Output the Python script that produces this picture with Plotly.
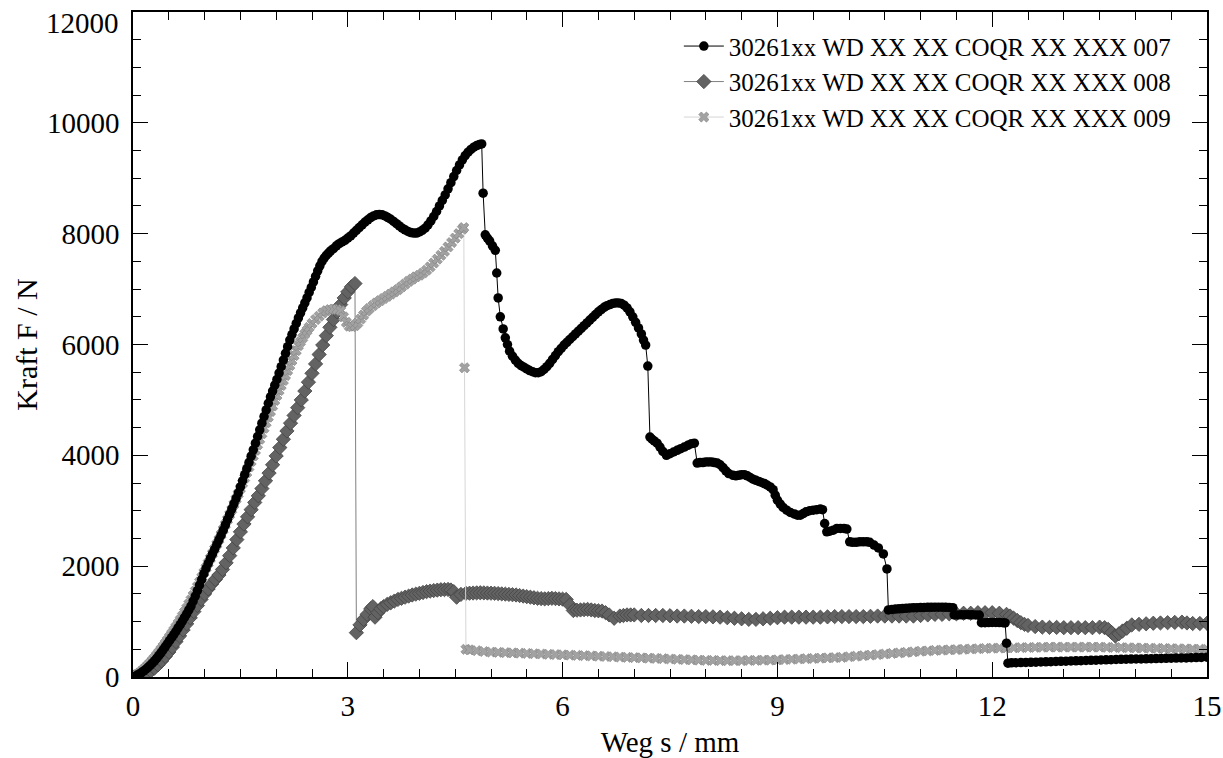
import plotly.graph_objects as go

# ---------------- data ----------------
name_007 = "30261xx WD XX XX COQR XX XXX 007"
name_008 = "30261xx WD XX XX COQR XX XXX 008"
name_009 = "30261xx WD XX XX COQR XX XXX 009"

# Series 007 (black circles)
x_007 = [0.00, 0.03, 0.06, 0.09, 0.12, 0.15, 0.18, 0.21, 0.24, 0.27, 0.30, 0.33, 0.36, 0.39, 0.42, 0.45, 0.48,
         0.51, 0.54, 0.57, 0.60, 0.63, 0.66, 0.69, 0.72, 0.75, 0.78, 0.81, 0.84, 0.87, 0.90, 0.93, 0.96, 0.99,
         1.02, 1.05, 1.08, 1.11, 1.14, 1.17, 1.20, 1.23, 1.26, 1.29, 1.32, 1.35, 1.38, 1.41, 1.44, 1.47, 1.50,
         1.53, 1.56, 1.59, 1.62, 1.65, 1.68, 1.71, 1.74, 1.77, 1.80, 1.83, 1.86, 1.89, 1.92, 1.95, 1.98, 2.01,
         2.04, 2.07, 2.10, 2.13, 2.16, 2.19, 2.22, 2.25, 2.28, 2.31, 2.34, 2.37, 2.40, 2.43, 2.46, 2.49, 2.52,
         2.55, 2.58, 2.61, 2.64, 2.67, 2.70, 2.73, 2.76, 2.80, 2.84, 2.88, 2.92, 2.96, 3.00, 3.04, 3.08, 3.12,
         3.16, 3.20, 3.24, 3.28, 3.32, 3.36, 3.40, 3.44, 3.48, 3.52, 3.56, 3.60, 3.64, 3.68, 3.72, 3.76, 3.80,
         3.84, 3.88, 3.92, 3.96, 4.00, 4.04, 4.08, 4.12, 4.16, 4.20, 4.24, 4.28, 4.32, 4.36, 4.40, 4.44, 4.48,
         4.52, 4.56, 4.60, 4.64, 4.68, 4.72, 4.76, 4.80, 4.84, 4.87,
         4.89, 4.92, 4.95, 4.98, 5.02, 5.06, 5.08, 5.10, 5.13, 5.17, 5.20, 5.23, 5.26, 5.30, 5.34, 5.38, 5.42,
         5.46, 5.50, 5.54, 5.58, 5.62, 5.66, 5.70, 5.74, 5.78, 5.82, 5.86, 5.90, 5.94, 5.98, 6.02, 6.06, 6.10,
         6.14, 6.18, 6.22, 6.26, 6.30, 6.34, 6.38, 6.42, 6.46, 6.50, 6.54, 6.58, 6.62, 6.66, 6.70, 6.74, 6.78,
         6.82, 6.86, 6.90, 6.94, 6.98, 7.02, 7.06, 7.10, 7.13, 7.16, 7.19,
         7.22, 7.25, 7.28, 7.32, 7.36, 7.40, 7.45, 7.50, 7.55, 7.60, 7.65, 7.70, 7.75, 7.80, 7.84,
         7.88, 7.92, 7.96, 8.00, 8.04, 8.08, 8.12, 8.16, 8.20, 8.24, 8.28, 8.32, 8.38, 8.42, 8.46, 8.50, 8.54,
         8.58, 8.62, 8.66, 8.70, 8.74, 8.78, 8.82, 8.86, 8.90, 8.94, 8.97, 9.00, 9.04, 9.08, 9.13, 9.18, 9.24,
         9.28, 9.32, 9.36, 9.40, 9.45, 9.50, 9.55, 9.60, 9.63, 9.66, 9.69, 9.73, 9.78, 9.83, 9.88, 9.93, 9.97,
         10.01, 10.05, 10.10, 10.15, 10.20, 10.25, 10.29, 10.35, 10.41, 10.48, 10.53,
         10.55, 10.60, 10.65, 10.70, 10.75, 10.80, 10.85, 10.90, 10.95, 11.00, 11.05, 11.10, 11.15, 11.20,
         11.25, 11.30, 11.35, 11.40, 11.45,
         11.47, 11.52, 11.57, 11.62, 11.67, 11.72, 11.77, 11.82,
         11.85, 11.90, 11.95, 12.00, 12.05, 12.10, 12.15, 12.18,
         12.20, 12.22, 12.27, 12.33, 12.40, 12.47, 12.54, 12.61, 12.68, 12.75, 12.82, 12.89, 12.96, 13.03,
         13.10, 13.17, 13.24, 13.31, 13.38, 13.45, 13.52, 13.59, 13.66, 13.73, 13.80, 13.87, 13.94, 14.01,
         14.08, 14.15, 14.22, 14.29, 14.36, 14.43, 14.50, 14.57, 14.64, 14.71, 14.78, 14.85, 14.92, 15.00]
y_007 = [0, 15, 35, 55, 80, 110, 140, 175, 210, 250, 290, 335, 385, 435, 490, 545, 600,
         655, 710, 765, 825, 885, 945, 1010, 1075, 1140, 1210, 1280, 1370, 1460, 1560, 1660, 1760, 1865,
         1960, 2050, 2135, 2220, 2305, 2390, 2475, 2560, 2650, 2745, 2840, 2935, 3030, 3125, 3220, 3320, 3430,
         3540, 3650, 3760, 3870, 3985, 4100, 4220, 4340, 4460, 4580, 4700, 4820, 4940, 5055, 5160, 5265, 5370,
         5485, 5600, 5720, 5840, 5960, 6080, 6180, 6280, 6380, 6480, 6570, 6660, 6750, 6840, 6940, 7030, 7130,
         7230, 7330, 7420, 7500, 7560, 7610, 7650, 7690, 7730, 7780, 7820, 7850, 7880, 7920, 7960, 8010, 8060,
         8110, 8160, 8210, 8250, 8290, 8320, 8340, 8345, 8340, 8320, 8290, 8260, 8220, 8180, 8140, 8100, 8070,
         8040, 8020, 8010, 8010, 8030, 8060, 8100, 8160, 8230, 8310, 8400, 8500, 8600, 8700, 8810, 8920, 9030,
         9140, 9240, 9330, 9410, 9470, 9520, 9560, 9590, 9610, 9620,
         8730, 7980, 7920, 7870, 7780, 7700, 7290, 6840, 6500, 6280, 6120, 6000, 5880, 5790, 5720, 5660, 5620,
         5590, 5560, 5530, 5510, 5490, 5490, 5510, 5550, 5600, 5660, 5730, 5800, 5870, 5930, 5990, 6040, 6090,
         6140, 6190, 6240, 6290, 6340, 6390, 6440, 6490, 6540, 6590, 6630, 6670, 6700, 6720, 6740, 6750, 6750,
         6740, 6710, 6660, 6590, 6500, 6400, 6300, 6190, 6080, 5990, 5610,
         4330, 4290, 4260, 4220, 4150, 4070, 4000, 4030, 4060, 4090, 4120, 4150, 4180, 4210, 4220,
         3860, 3870, 3870, 3880, 3880, 3880, 3870, 3860, 3830, 3780, 3720, 3670, 3640, 3630, 3640, 3650, 3650,
         3630, 3600, 3570, 3550, 3530, 3510, 3490, 3460, 3430, 3380, 3280, 3190, 3120, 3060, 3010, 2970, 2940,
         2920, 2920, 2950, 2980, 3000, 3010, 3020, 3030, 3020, 2770, 2620, 2630, 2650, 2680, 2680, 2680, 2670,
         2440, 2430, 2430, 2440, 2440, 2440, 2430, 2380, 2330, 2220, 1950,
         1210, 1220, 1225, 1230, 1235, 1240, 1245, 1248, 1250, 1252, 1255, 1257, 1258, 1260,
         1260, 1260, 1258, 1255, 1250,
         1120, 1120, 1122, 1125, 1125, 1122, 1120, 1118,
         980, 980, 982, 985, 985, 982, 980, 975,
         610, 250, 255, 257, 260, 262, 265, 268, 271, 274, 277, 280, 283, 286,
         289, 292, 295, 298, 301, 304, 307, 310, 313, 316, 319, 321, 323, 325,
         327, 329, 331, 333, 335, 337, 339, 341, 343, 345, 348, 351, 354, 358]

# Series 008 (dark grey diamonds)
x_008 = [0.00, 0.05, 0.10, 0.15, 0.20, 0.25, 0.30, 0.35, 0.40, 0.45, 0.50, 0.55, 0.60, 0.65, 0.70, 0.75,
         0.80, 0.85, 0.90, 0.95, 1.00, 1.05, 1.10, 1.15, 1.20, 1.25, 1.30, 1.35, 1.40, 1.45, 1.50, 1.55,
         1.60, 1.65, 1.70, 1.75, 1.80, 1.85, 1.90, 1.95, 2.00, 2.05, 2.10, 2.15, 2.20, 2.25, 2.30, 2.35,
         2.40, 2.45, 2.50, 2.55, 2.60, 2.65, 2.70, 2.75, 2.80, 2.85, 2.90, 2.95, 3.00, 3.05, 3.10,
         3.12, 3.17, 3.22, 3.27, 3.32, 3.35, 3.38, 3.42, 3.46, 3.50, 3.55, 3.60, 3.65, 3.70, 3.75, 3.80,
         3.85, 3.90, 3.95, 4.00, 4.05, 4.10, 4.15, 4.20, 4.25, 4.30, 4.35, 4.40, 4.44, 4.48, 4.52, 4.58,
         4.65, 4.70, 4.75, 4.80, 4.85, 4.90, 4.95, 5.00, 5.05, 5.10, 5.15, 5.20, 5.25, 5.30, 5.35, 5.40,
         5.45, 5.50, 5.55, 5.60, 5.65, 5.70, 5.75, 5.80, 5.85, 5.90, 5.95, 6.00, 6.05, 6.10, 6.15, 6.20,
         6.25, 6.30, 6.35, 6.40, 6.45, 6.50, 6.55, 6.60, 6.65, 6.72, 6.80, 6.85, 6.90, 6.95, 7.00, 7.10,
         7.20, 7.30, 7.40, 7.50, 7.60, 7.70, 7.80, 7.90, 8.00, 8.10, 8.20, 8.30, 8.40, 8.50, 8.60, 8.70,
         8.80, 8.90, 9.00, 9.10, 9.20, 9.30, 9.40, 9.50, 9.60, 9.70, 9.80, 9.90, 10.00, 10.10, 10.20,
         10.30, 10.40, 10.50, 10.60, 10.70, 10.80, 10.90, 11.00, 11.10, 11.20, 11.30, 11.40, 11.50, 11.60,
         11.70, 11.80, 11.90, 12.00, 12.10, 12.20, 12.25, 12.30, 12.35, 12.40, 12.45, 12.50, 12.60, 12.70,
         12.80, 12.90, 13.00, 13.10, 13.20, 13.30, 13.40, 13.50, 13.57, 13.62, 13.67, 13.72, 13.77, 13.82,
         13.88, 13.95, 14.05, 14.15, 14.25, 14.35, 14.45, 14.55, 14.65, 14.72, 14.80, 14.90, 15.00]
y_008 = [0, 10, 25, 45, 70, 110, 160, 220, 290, 370, 450, 540, 640, 740, 850, 960,
         1070, 1180, 1290, 1400, 1500, 1590, 1680, 1760, 1840, 1940, 2060, 2190, 2330, 2480, 2620, 2760,
         2890, 3020, 3150, 3270, 3400, 3540, 3680, 3830, 3990, 4140, 4290, 4440, 4580, 4720, 4860, 5000,
         5160, 5320, 5480, 5650, 5820, 5990, 6160, 6310, 6450, 6590, 6720, 6840, 6950, 7040, 7100,
         800, 940, 1040, 1130, 1230, 1270, 1080, 1160, 1230, 1270, 1310, 1340, 1370, 1400, 1420, 1440,
         1460, 1480, 1495, 1510, 1525, 1540, 1550, 1560, 1568, 1575, 1578, 1580, 1570, 1540, 1440, 1490,
         1510, 1512, 1515, 1518, 1520, 1518, 1515, 1512, 1510, 1505, 1500, 1495, 1490, 1485, 1480, 1470,
         1460, 1450, 1440, 1430, 1420, 1415, 1410, 1415, 1420, 1415, 1410, 1405, 1400, 1300, 1200, 1205,
         1210, 1215, 1220, 1210, 1200, 1195, 1190, 1160, 1120, 1060, 1100, 1110, 1120, 1120, 1120, 1110,
         1110, 1110, 1110, 1105, 1100, 1100, 1095, 1090, 1090, 1085, 1080, 1070, 1060, 1050, 1040, 1040,
         1050, 1060, 1070, 1080, 1080, 1080, 1080, 1080, 1080, 1085, 1090, 1090, 1090, 1090, 1090,
         1095, 1100, 1100, 1100, 1100, 1100, 1100, 1110, 1120, 1130, 1130, 1140, 1140, 1150,
         1150, 1160, 1160, 1160, 1150, 1130, 1100, 1060, 1020, 980, 950, 930, 910, 900,
         895, 895, 890, 890, 890, 890, 890, 900, 890, 860, 800, 740, 780, 830,
         880, 940, 950, 960, 970, 975, 980, 985, 990, 975, 965, 965, 970]

# Series 009 (light grey crosses)
x_009 = [0.00, 0.03, 0.06, 0.09, 0.12, 0.15, 0.18, 0.21, 0.24, 0.27, 0.30, 0.33, 0.36, 0.39, 0.42, 0.45, 0.48,
         0.51, 0.54, 0.57, 0.60, 0.63, 0.66, 0.69, 0.72, 0.75, 0.78, 0.81, 0.84, 0.87, 0.90, 0.93, 0.96, 0.99,
         1.02, 1.05, 1.08, 1.11, 1.14, 1.17, 1.20, 1.23, 1.26, 1.29, 1.32, 1.35, 1.38, 1.41, 1.44, 1.47, 1.50,
         1.53, 1.56, 1.59, 1.62, 1.65, 1.68, 1.71, 1.74, 1.77, 1.80, 1.83, 1.86, 1.89, 1.92, 1.95, 1.98, 2.01,
         2.04, 2.07, 2.10, 2.13, 2.16, 2.19, 2.22, 2.25, 2.28, 2.31, 2.34, 2.37, 2.40, 2.43, 2.46, 2.50, 2.55,
         2.60, 2.65, 2.70, 2.75, 2.80, 2.85, 2.90, 2.94, 2.98, 3.02, 3.06, 3.10, 3.14, 3.18, 3.22, 3.26, 3.30,
         3.35, 3.40, 3.45, 3.50, 3.55, 3.60, 3.65, 3.70, 3.75, 3.80, 3.85, 3.90, 3.95, 4.00, 4.05, 4.10, 4.15,
         4.20, 4.25, 4.30, 4.35, 4.40, 4.45, 4.50, 4.55, 4.60, 4.62, 4.63,
         4.65, 4.70, 4.80, 4.90, 5.00, 5.10, 5.20, 5.30, 5.40, 5.50, 5.60, 5.70, 5.80, 5.90, 6.00, 6.10,
         6.20, 6.30, 6.40, 6.50, 6.60, 6.70, 6.80, 6.90, 7.00, 7.10, 7.20, 7.30, 7.40, 7.50, 7.60, 7.70,
         7.80, 7.90, 8.00, 8.10, 8.20, 8.30, 8.40, 8.50, 8.60, 8.70, 8.80, 8.90, 9.00, 9.10, 9.20, 9.30,
         9.40, 9.50, 9.60, 9.70, 9.80, 9.90, 10.00, 10.10, 10.20, 10.30, 10.40, 10.50, 10.60, 10.70, 10.80,
         10.90, 11.00, 11.10, 11.20, 11.30, 11.40, 11.50, 11.60, 11.70, 11.80, 11.90, 12.00, 12.10, 12.20,
         12.30, 12.40, 12.50, 12.60, 12.70, 12.80, 12.90, 13.00, 13.10, 13.20, 13.30, 13.40, 13.50, 13.60,
         13.70, 13.80, 13.90, 14.00, 14.10, 14.20, 14.30, 14.40, 14.50, 14.60, 14.70, 14.80, 14.90, 15.00]
y_009 = [0, 20, 45, 70, 100, 135, 170, 210, 250, 295, 340, 390, 440, 495, 550, 605, 660,
         720, 780, 840, 900, 965, 1030, 1100, 1170, 1240, 1315, 1390, 1470, 1550, 1630, 1715, 1800, 1885,
         1970, 2055, 2140, 2225, 2310, 2395, 2480, 2570, 2660, 2750, 2840, 2930, 3020, 3115, 3210, 3305, 3400,
         3495, 3590, 3690, 3790, 3890, 3990, 4090, 4190, 4290, 4390, 4490, 4590, 4690, 4790, 4890, 4990, 5080,
         5170, 5260, 5350, 5440, 5530, 5620, 5710, 5800, 5890, 5980, 6050, 6120, 6190, 6250, 6310, 6380, 6450,
         6510, 6570, 6610, 6630, 6640, 6630, 6610, 6500, 6400, 6330, 6320, 6340, 6390, 6460, 6530, 6600, 6650,
         6700, 6750, 6790, 6830, 6870, 6910, 6950, 6990, 7040, 7090, 7140, 7180, 7220, 7250, 7290, 7340, 7400,
         7470, 7540, 7610, 7680, 7760, 7840, 7920, 8000, 8080, 8110, 5580,
         500, 490, 475, 460, 450, 445, 440, 435, 430, 425, 420, 415, 410, 405, 400, 395,
         390, 385, 380, 375, 370, 365, 360, 355, 350, 345, 340, 335, 330, 325, 320, 315,
         310, 305, 300, 300, 295, 295, 295, 295, 300, 300, 305, 305, 310, 315, 320, 325,
         330, 335, 340, 345, 350, 355, 365, 375, 385, 395, 405, 415, 425, 435, 445,
         455, 465, 470, 480, 485, 490, 495, 500, 505, 510, 515, 520, 522, 525,
         527, 530, 532, 535, 537, 540, 540, 540, 540, 540, 540, 540, 540, 535,
         533, 530, 528, 525, 523, 520, 518, 515, 512, 510, 507, 505, 502, 500]

x_ticks = [0, 3, 6, 9, 12, 15]
y_ticks = [0, 2000, 4000, 6000, 8000, 10000, 12000]
x_title = "Weg s / mm"
y_title = "Kraft F / N"

FONT = "Liberation Serif"

fig = go.Figure()

fig.add_trace(go.Scatter(
    x=x_008, y=y_008, name=name_008, mode="lines+markers", legendrank=2,
    line=dict(color="#808080", width=1),
    marker=dict(symbol="diamond", size=11, color="#636363", line=dict(color="#444444", width=0.8)),
))
fig.add_trace(go.Scatter(
    x=x_009, y=y_009, name=name_009, mode="lines+markers", legendrank=3,
    line=dict(color="#d6d6d6", width=1),
    marker=dict(symbol="x", size=9, color="#a2a2a2", line=dict(color="#7e7e7e", width=0.6)),
))
fig.add_trace(go.Scatter(
    x=x_007, y=y_007, name=name_007, mode="lines+markers", legendrank=1,
    line=dict(color="#000000", width=1),
    marker=dict(symbol="circle", size=9.5, color="#000000"),
))

# the top y label sits lower than its tick in the reference (kept inside the image)
y_ticktext = [str(v) if v != y_ticks[-1] else "" for v in y_ticks]

fig.update_xaxes(
    range=[0, 15], tickmode="array", tickvals=x_ticks, ticktext=[str(v) for v in x_ticks],
    ticklabelstandoff=2, ticklabeloverflow="allow",
    showline=True, linecolor="black", linewidth=1.5, mirror="allticks",
    ticks="inside", ticklen=15, tickwidth=1.2, tickcolor="black",
    showgrid=False, zeroline=False,
    tickfont=dict(family=FONT, size=29, color="black"),
    minor=dict(dtick=0.5, ticks="inside", ticklen=8, tickwidth=1.2, tickcolor="black", showgrid=False),
    title=dict(text=x_title, font=dict(family=FONT, size=29, color="black"), standoff=14),
)
fig.update_yaxes(
    range=[0, 12000], tickmode="array", tickvals=y_ticks, ticktext=y_ticktext,
    ticklabelstandoff=6, ticklabeloverflow="allow",
    showline=True, linecolor="black", linewidth=1.5, mirror="allticks",
    ticks="inside", ticklen=15, tickwidth=1.2, tickcolor="black",
    showgrid=False, zeroline=False,
    tickfont=dict(family=FONT, size=29, color="black"),
    minor=dict(dtick=500, ticks="inside", ticklen=8, tickwidth=1.2, tickcolor="black", showgrid=False),
    title=dict(text=y_title, font=dict(family=FONT, size=30, color="black"), standoff=0),
)

fig.add_annotation(
    text=str(y_ticks[-1]), xref="paper", yref="paper", x=0, y=1,
    xanchor="right", yanchor="middle", xshift=-12, yshift=-11, showarrow=False,
    font=dict(family=FONT, size=29, color="black"),
)

fig.update_layout(
    width=1223, height=758,
    margin=dict(l=133, r=16, t=12, b=81, autoexpand=False),
    paper_bgcolor="white", plot_bgcolor="white",
    font=dict(family=FONT, color="black", size=29),
    legend=dict(
        x=0.971, y=0.983, xanchor="right", yanchor="top",
        bgcolor="rgba(255,255,255,0)", borderwidth=0,
        font=dict(family=FONT, size=25, color="black"),
        itemwidth=40, tracegroupgap=0,
    ),
    showlegend=True,
)

fig.write_html("out.html")
